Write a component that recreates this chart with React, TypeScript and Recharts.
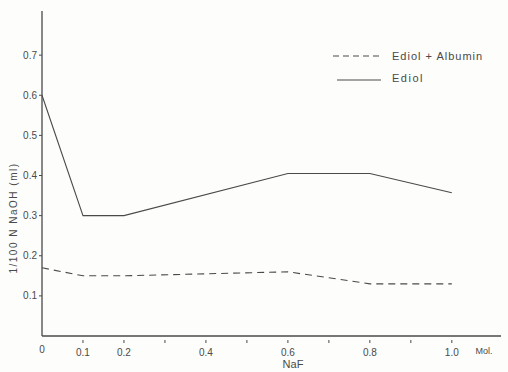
import { Label, Legend, Line, LineChart, XAxis, YAxis } from "recharts";

const naf = [0, 0.1, 0.2, 0.6, 0.8, 1.0];
const ediol = [0.6, 0.3, 0.3, 0.405, 0.405, 0.357];
const ediolAlbumin = [0.17, 0.15, 0.15, 0.16, 0.13, 0.13];

const xTicks = [0, 0.1, 0.2, 0.3, 0.4, 0.5, 0.6, 0.7, 0.8, 0.9, 1.0];
const xTickLabels: Record<string, string> = {
  "0": "0",
  "0.1": "0.1",
  "0.2": "0.2",
  "0.4": "0.4",
  "0.6": "0.6",
  "0.8": "0.8",
  "1": "1.0",
};
const yTicks = [0.1, 0.2, 0.3, 0.4, 0.5, 0.6, 0.7];

const data = naf.map((x, i) => ({
  x,
  ediol: ediol[i],
  albumin: ediolAlbumin[i],
}));

const INK = "#4a4a4a";
const FONT = "'Liberation Sans', Arial, sans-serif";

function XTick(props: any) {
  const { x, y, payload } = props;
  const label = xTickLabels[String(payload.value)] ?? "";
  return (
    <g>
      {payload.value > 0 && (
        <line x1={x} x2={x} y1={y - 4} y2={y - 1} stroke={INK} strokeWidth={1} />
      )}
      <text
        x={x}
        y={payload.value === 0 ? y + 9 : y + 12}
        textAnchor="middle"
        fill={INK}
        fontSize={10}
        fontFamily={FONT}
      >
        {label}
      </text>
    </g>
  );
}

function LegendBox() {
  return (
    <svg width={180} height={40} style={{ display: "block" }}>
      <line x1={3} x2={50} y1={12} y2={12} stroke={INK} strokeWidth={1.1} strokeDasharray="6 4" />
      <text x={62} y={16} fill={INK} fontSize={11} fontFamily={FONT} letterSpacing={1}>
        Ediol + Albumin
      </text>
      <line x1={7} x2={51} y1={36} y2={36} stroke={INK} strokeWidth={1.1} />
      <text x={62} y={38} fill={INK} fontSize={11} fontFamily={FONT} letterSpacing={1.5}>
        Ediol
      </text>
    </svg>
  );
}

export default function App() {
  return (
    <div style={{ position: "fixed", left: 0, top: 0, background: "#fdfdfb" }}>
      <LineChart
        width={508}
        height={372}
        data={data}
        margin={{ top: 11, right: 7, left: 0, bottom: 0 }}
      >
        <XAxis
          dataKey="x"
          type="number"
          domain={[0, 1.12]}
          ticks={xTicks}
          interval={0}
          tick={<XTick />}
          tickLine={false}
          axisLine={{ stroke: INK, strokeWidth: 1.3 }}
          height={36}
        >
          <Label
            content={() => (
              <g>
                <text x={293} y={368} textAnchor="middle" fill={INK} fontSize={11} fontFamily={FONT}>
                  NaF
                </text>
                <text x={484} y={354} textAnchor="middle" fill={INK} fontSize={9} fontFamily={FONT}>
                  Mol.
                </text>
              </g>
            )}
          />
        </XAxis>
        <YAxis
          type="number"
          domain={[0, 0.81]}
          ticks={yTicks}
          width={42}
          tickFormatter={(v: number) => v.toFixed(1)}
          tick={{ fill: INK, fontSize: 10, fontFamily: FONT }}
          tickSize={3}
          tickLine={{ stroke: INK }}
          axisLine={{ stroke: INK, strokeWidth: 1.3 }}
        >
          <Label
            content={() => (
              <text
                x={17}
                y={218}
                transform="rotate(-90 17 218)"
                textAnchor="middle"
                fill={INK}
                fontSize={10}
                fontFamily={FONT}
                letterSpacing={1.5}
              >
                1/100 N NaOH (ml)
              </text>
            )}
          />
        </YAxis>
        <Legend
          layout="horizontal"
          verticalAlign="middle"
          content={() => <LegendBox />}
          wrapperStyle={{ position: "absolute", top: 44, left: 330, width: 180 }}
        />
        <Line
          dataKey="albumin"
          name="Ediol + Albumin"
          type="linear"
          stroke={INK}
          strokeWidth={1.1}
          strokeDasharray="7 5"
          dot={false}
          isAnimationActive={false}
        />
        <Line
          dataKey="ediol"
          name="Ediol"
          type="linear"
          stroke={INK}
          strokeWidth={1.1}
          dot={false}
          isAnimationActive={false}
        />
      </LineChart>
    </div>
  );
}
